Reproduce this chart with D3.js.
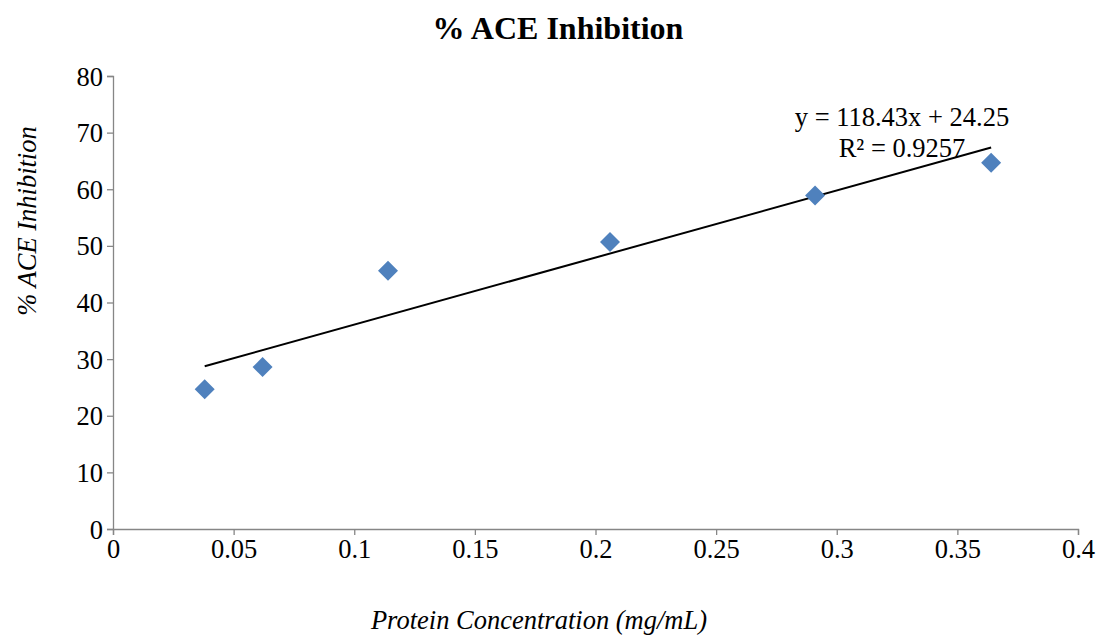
<!DOCTYPE html>
<html>
<head>
<meta charset="utf-8">
<script src="https://cdn.jsdelivr.net/npm/d3@7"></script>
<style>
  html, body { margin: 0; padding: 0; background: #fff; }
  svg { display: block; font-family: "Liberation Serif", "Times New Roman", serif; }
</style>
</head>
<body>
<svg id="chart" width="1101" height="635"></svg>
<script>
// Protein concentration (mg/mL) and measured % ACE inhibition
const concentration = [0.038, 0.062, 0.114, 0.206, 0.291, 0.364];
const inhibition = [24.7, 28.6, 45.6, 50.7, 58.9, 64.7];

// Linear trendline coefficients
const slope = 118.43;
const intercept = 24.25;
const rSquared = 0.9257;

const xTicks = [0, 0.05, 0.1, 0.15, 0.2, 0.25, 0.3, 0.35, 0.4];
const yTicks = [0, 10, 20, 30, 40, 50, 60, 70, 80];

const svg = d3.select("#chart");
const margin = { left: 113, right: 23, top: 76, bottom: 106 };
const W = 1101, H = 635;

const x = d3.scaleLinear().domain([0, 0.4]).range([margin.left, W - margin.right]);
const y = d3.scaleLinear().domain([0, 80]).range([H - margin.bottom, margin.top]);

const axisColor = "#868686";
const labelSize = "26.5px";

// X axis
const gx = svg.append("g")
  .attr("transform", `translate(0,${y(0)})`)
  .call(d3.axisBottom(x).tickValues(xTicks).tickSize(6).tickPadding(5)
    .tickFormat(d => d3.format("~g")(d)));
// Y axis
const gy = svg.append("g")
  .attr("transform", `translate(${x(0)},0)`)
  .call(d3.axisLeft(y).tickValues(yTicks).tickSize(6).tickPadding(4));

[gx, gy].forEach(g => {
  g.select(".domain").attr("stroke", axisColor).attr("stroke-width", 1.3);
  g.selectAll(".tick line").attr("stroke", axisColor).attr("stroke-width", 1.3);
  g.selectAll(".tick text")
    .attr("fill", "#000")
    .style("font-family", '"Liberation Serif", serif')
    .style("font-size", labelSize);
});
gy.selectAll(".tick text").attr("dy", "0.34em");
gx.selectAll(".tick text").attr("dy", "0.68em");

// Trendline across the data range
const x0 = d3.min(concentration), x1 = d3.max(concentration);
svg.append("line")
  .attr("x1", x(x0)).attr("y1", y(slope * x0 + intercept))
  .attr("x2", x(x1)).attr("y2", y(slope * x1 + intercept))
  .attr("stroke", "#000").attr("stroke-width", 2);

// Data markers (diamonds)
const diamond = d3.symbol().type(d3.symbolSquare).size(200);
svg.append("g").selectAll("path")
  .data(concentration.map((c, i) => [c, inhibition[i]]))
  .join("path")
  .attr("d", diamond)
  .attr("transform", d => `translate(${x(d[0])},${y(d[1])}) rotate(45)`)
  .attr("fill", "#4F81BD");

// Trendline equation
const eq = svg.append("text")
  .attr("text-anchor", "middle")
  .style("font-size", labelSize);
eq.append("tspan").attr("x", 902).attr("y", 126)
  .text(`y = ${slope}x + ${intercept}`);
eq.append("tspan").attr("x", 902).attr("y", 157)
  .text(`R² = ${rSquared}`);

// Title
svg.append("text")
  .attr("x", 558).attr("y", 39)
  .attr("text-anchor", "middle")
  .style("font-size", "32px").style("font-weight", "bold")
  .text("% ACE Inhibition");

// Axis titles
svg.append("text")
  .attr("x", 539).attr("y", 629)
  .attr("text-anchor", "middle")
  .style("font-size", labelSize).style("font-style", "italic")
  .text("Protein Concentration (mg/mL)");

svg.append("text")
  .attr("transform", "translate(36,221) rotate(-90)")
  .attr("text-anchor", "middle")
  .style("font-size", labelSize).style("font-style", "italic")
  .text("% ACE Inhibition");
</script>
</body>
</html>
